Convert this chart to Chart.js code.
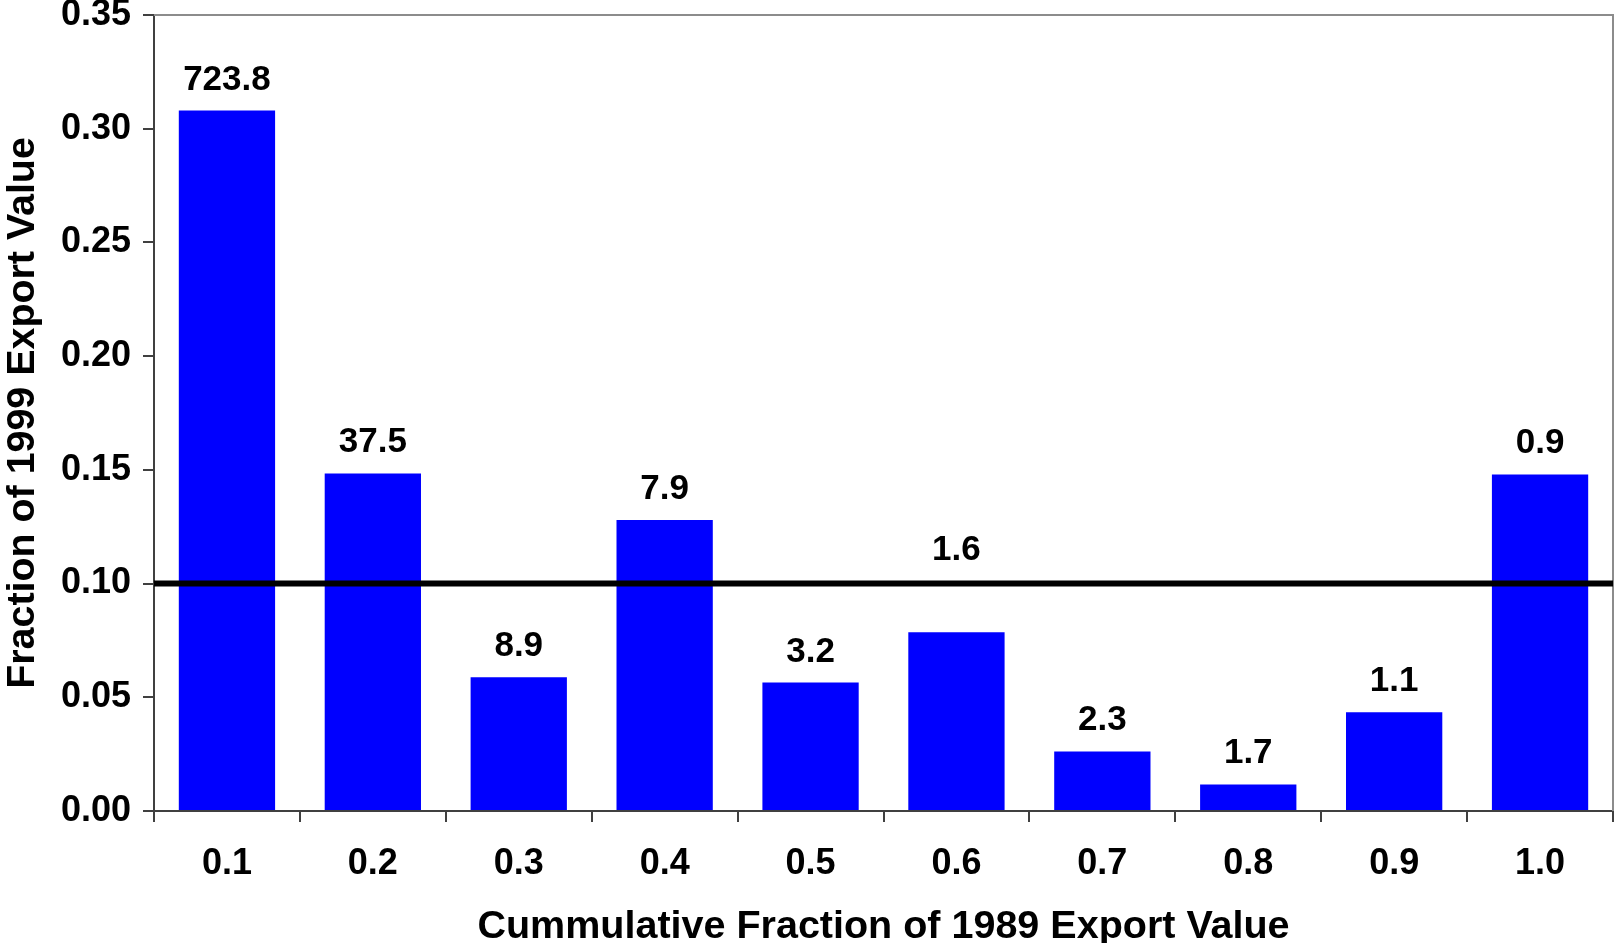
<!DOCTYPE html>
<html>
<head>
<meta charset="utf-8">
<script src="https://cdn.jsdelivr.net/npm/chart.js@4.4.1/dist/chart.umd.min.js"></script>
<style>
html,body{margin:0;padding:0;background:#fff;}
#wrap{width:1614px;height:943px;position:relative;}
</style>
</head>
<body>
<div id="wrap"><canvas id="c" width="1614" height="943"></canvas></div>
<script>
const categories = ['0.1','0.2','0.3','0.4','0.5','0.6','0.7','0.8','0.9','1.0'];
const fractionValues = [0.308, 0.1484, 0.0588, 0.128, 0.0565, 0.0786, 0.0262, 0.0117, 0.0434, 0.148];
const barLabels = ['723.8','37.5','8.9','7.9','3.2','1.6','2.3','1.7','1.1','0.9'];
const referenceLevel = 0.10;
const yMin = 0, yMax = 0.35, yStep = 0.05;

const FONT = '"Liberation Sans", Arial, Helvetica, sans-serif';

const overlayPlugin = {
  id: 'overlay',
  afterDatasetsDraw(chart) {
    const {ctx, chartArea, scales} = chart;
    const y = scales.y;
    ctx.save();
    ctx.strokeStyle = '#8c8c8c';
    ctx.lineWidth = 2;
    ctx.beginPath();
    ctx.moveTo(chartArea.left, chartArea.top);
    ctx.lineTo(chartArea.right, chartArea.top);
    ctx.lineTo(chartArea.right, chartArea.bottom);
    ctx.stroke();
    const ly = y.getPixelForValue(referenceLevel);
    ctx.strokeStyle = '#000';
    ctx.lineWidth = 6;
    ctx.beginPath();
    ctx.moveTo(chartArea.left, ly);
    ctx.lineTo(chartArea.right, ly);
    ctx.stroke();
    ctx.fillStyle = '#000';
    ctx.font = 'bold 35px ' + FONT;
    ctx.textAlign = 'center';
    ctx.textBaseline = 'alphabetic';
    const meta = chart.getDatasetMeta(0);
    meta.data.forEach((bar, i) => {
      let anchor = bar.y;
      const capTop = anchor - 21 - 25;
      if (ly > capTop - 10 && ly < anchor) anchor = ly - 3;
      ctx.fillText(barLabels[i], bar.x, anchor - 21);
    });
    ctx.restore();
  }
};

new Chart(document.getElementById('c'), {
  type: 'bar',
  data: {
    labels: categories,
    datasets: [{
      data: fractionValues,
      backgroundColor: '#0000ff',
      borderWidth: 0,
      barPercentage: 0.66,
      categoryPercentage: 1.0
    }]
  },
  options: {
    responsive: false,
    animation: false,
    devicePixelRatio: 1,
    layout: {padding: {top: 15, right: 1, left: 0, bottom: 0}},
    plugins: {legend: {display: false}, tooltip: {enabled: false}},
    scales: {
      x: {
        offset: true,
        grid: {display: true, drawOnChartArea: false, drawTicks: true, tickLength: 11, color: '#404040', lineWidth: 2, offset: true},
        border: {display: true, color: '#404040', width: 2},
        ticks: {color: '#000', font: {family: FONT, size: 36, weight: 'bold', lineHeight: 1.2}, padding: 20, maxRotation: 0, autoSkip: false},
        title: {display: true, text: 'Cummulative Fraction of 1989 Export Value', color: '#000',
                font: {family: FONT, size: 39.5, weight: 'bold', lineHeight: 0.82}, padding: {top: 0, bottom: 0}},
        afterFit(s) { s.height = 132; s.paddingLeft = 0; s.paddingRight = 0; }
      },
      y: {
        min: yMin, max: yMax,
        grid: {display: true, drawOnChartArea: false, drawTicks: true, tickLength: 11, color: '#404040', lineWidth: 2},
        border: {display: true, color: '#404040', width: 2},
        ticks: {stepSize: yStep, color: '#000', font: {family: FONT, size: 36, weight: 'bold', lineHeight: 0.8}, padding: 12,
                callback: v => Number(v).toFixed(2)},
        title: {display: true, text: 'Fraction of 1999 Export Value', color: '#000',
                font: {family: FONT, size: 39.4, weight: 'bold', lineHeight: 1.15}, padding: {top: 0, bottom: 0}},
        afterFit(s) { s.width = 154; s.paddingTop = 0; s.paddingBottom = 0; }
      }
    }
  },
  plugins: [overlayPlugin]
});
</script>
</body>
</html>
